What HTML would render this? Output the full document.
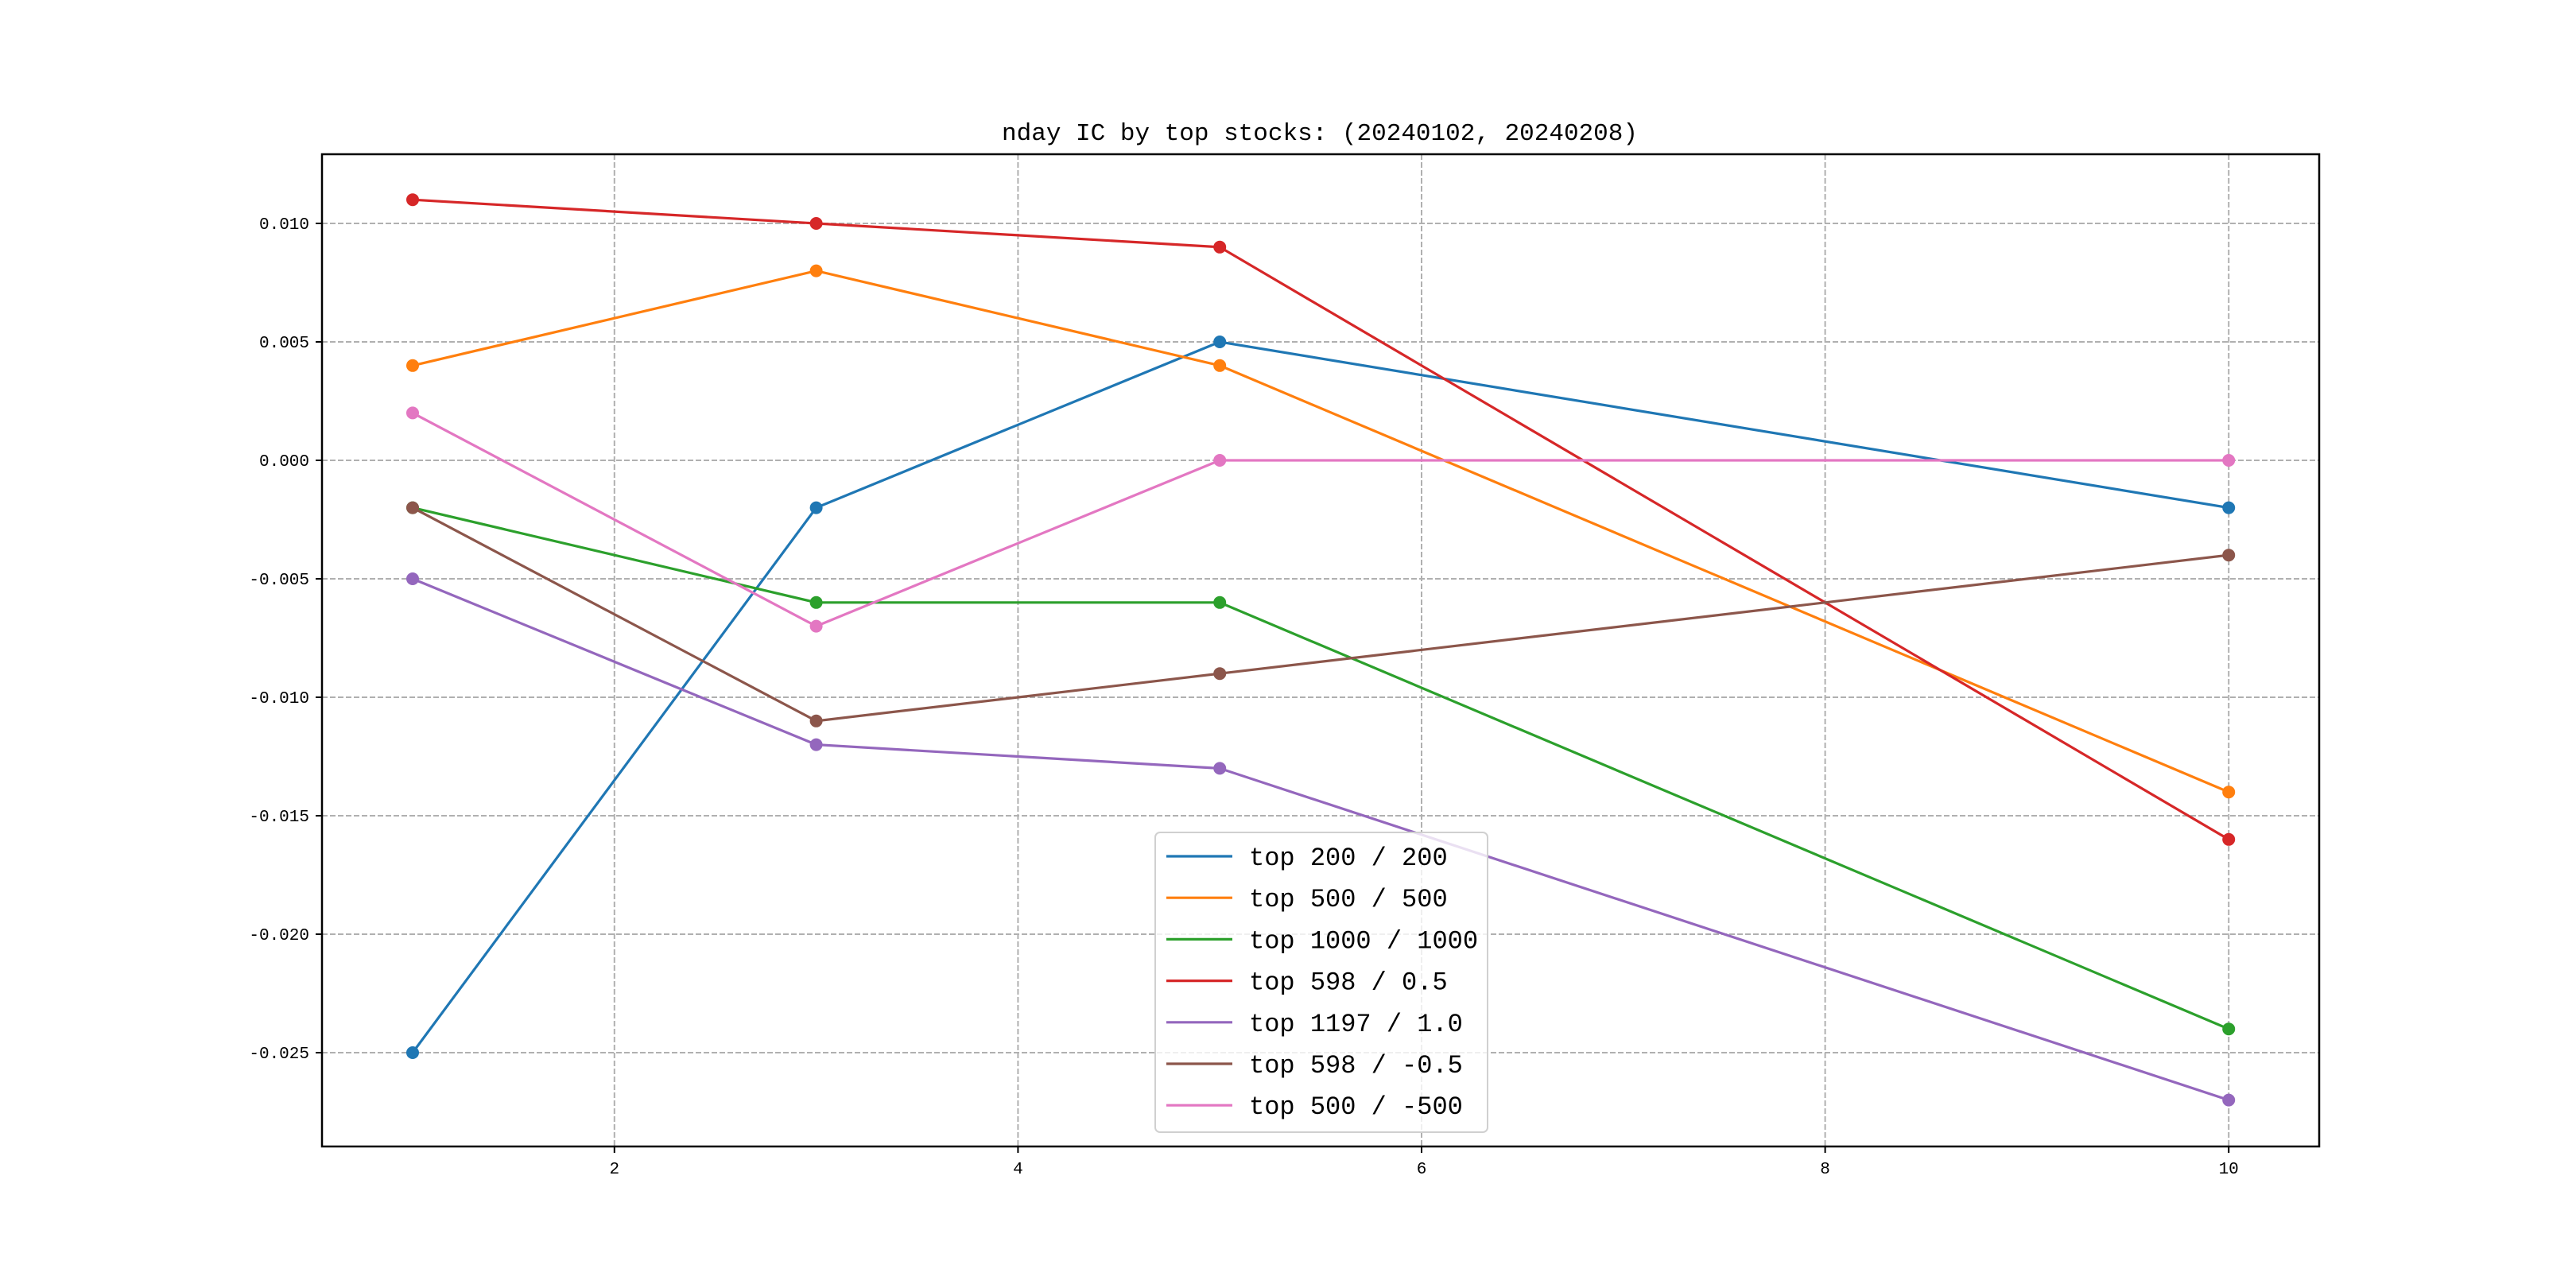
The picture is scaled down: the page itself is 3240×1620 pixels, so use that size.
<!DOCTYPE html>
<html><head><meta charset="utf-8"><style>
body{margin:0;background:#fff}
svg{display:block}
text{font-family:"Liberation Mono","Noto Sans CJK SC",monospace;fill:#000}
</style></head><body>
<svg id="chart" width="3240" height="1620" viewBox="0 0 3240 1620">
<rect width="3240" height="1620" fill="#fff"/>
<text x="1660" y="176" font-size="31" text-anchor="middle">nday IC by top stocks: (20240102, 20240208)</text>
<g id="grid"></g><g id="axes"></g><g id="series"></g><g id="legend"></g>
</svg>
<script>
const xValues=[1,3,5,10];
const seriesNames=["top 200 / 200","top 500 / 500","top 1000 / 1000","top 598 / 0.5","top 1197 / 1.0","top 598 / -0.5","top 500 / -500"];
const sTop200=[-0.025,-0.002,0.005,-0.002];
const sTop500=[0.004,0.008,0.004,-0.014];
const sTop1000=[-0.002,-0.006,-0.006,-0.024];
const sTop598p=[0.011,0.010,0.009,-0.016];
const sTop1197=[-0.005,-0.012,-0.013,-0.027];
const sTop598n=[-0.002,-0.011,-0.009,-0.004];
const sTop500n=[0.002,-0.007,0,0];
const xTicks=[2,4,6,8,10];
const yTicks=[0.010,0.005,0.000,-0.005,-0.010,-0.015,-0.020,-0.025];
const yTickLabels=["0.010","0.005","0.000","-0.005","-0.010","-0.015","-0.020","-0.025"];
const colors=["#1f77b4","#ff7f0e","#2ca02c","#d62728","#9467bd","#8c564b","#e377c2"];
const allSeries=[sTop200,sTop500,sTop1000,sTop598p,sTop1197,sTop598n,sTop500n];
const L=405,R=2917,T=194,B=1442;
const xs=v=>519+(v-1)*253.8;
const ys=v=>579-v/0.005*149;
const NS="http://www.w3.org/2000/svg";
function mk(tag,attrs,parent){const e=document.createElementNS(NS,tag);for(const k in attrs)e.setAttribute(k,attrs[k]);parent.appendChild(e);return e;}
const grid=document.getElementById('grid'),axes=document.getElementById('axes'),ser=document.getElementById('series'),leg=document.getElementById('legend');
xTicks.forEach(t=>{
 const g=mk('line',{x1:xs(t),x2:xs(t),y1:T,y2:B,stroke:'#b0b0b0','stroke-width':2,'stroke-dasharray':'7,3'},grid);
 
 
 const tk=mk('line',{x1:xs(t),x2:xs(t),y1:B,y2:B+8,stroke:'#000','stroke-width':2},axes);
 
 
 const tx=mk('text',{x:xs(t),y:B+34,'font-size':21,'text-anchor':'middle'},axes);
 tx.textContent=t;
 
 
});
yTicks.forEach((t,i)=>{
 const g=mk('line',{x1:L,x2:R,y1:ys(t),y2:ys(t),stroke:'#b0b0b0','stroke-width':2,'stroke-dasharray':'7,3'},grid);
 
 
 const tk=mk('line',{x1:L-8,x2:L,y1:ys(t),y2:ys(t),stroke:'#000','stroke-width':2},axes);
 
 
 const tx=mk('text',{x:L-16,y:ys(t)+7,'font-size':21,'text-anchor':'end'},axes);
 tx.textContent=yTickLabels[i];
 
 
});
const frame=mk('rect',{x:L,y:T,width:R-L,height:B-T,fill:'none',stroke:'#000','stroke-width':2.5},axes);


allSeries.forEach((s,si)=>{
 const g=mk('g',{},ser);
 
 
 const pl=mk('polyline',{points:s.map((v,i)=>xs(xValues[i])+','+ys(v)).join(' '),fill:'none',stroke:colors[si],'stroke-width':3.2},g);
 
 
 s.forEach((v,i)=>{
  const c=mk('circle',{cx:xs(xValues[i]),cy:ys(v),r:8,fill:colors[si]},g);
  
  
 });
});
const box=mk('rect',{x:1453,y:1047,width:418,height:377,rx:6,fill:'#fff','fill-opacity':0.8,stroke:'#d0d0d0','stroke-width':2},leg);


seriesNames.forEach((n,i)=>{
 const y=1077+i*52.2;
 const ln=mk('line',{x1:1467,x2:1550,y1:y,y2:y,stroke:colors[i],'stroke-width':3.2},leg);
 
 
 const tx=mk('text',{x:1571,y:y+11,'font-size':32},leg);
 tx.textContent=n;
 
 
});
</script>
</body></html>
